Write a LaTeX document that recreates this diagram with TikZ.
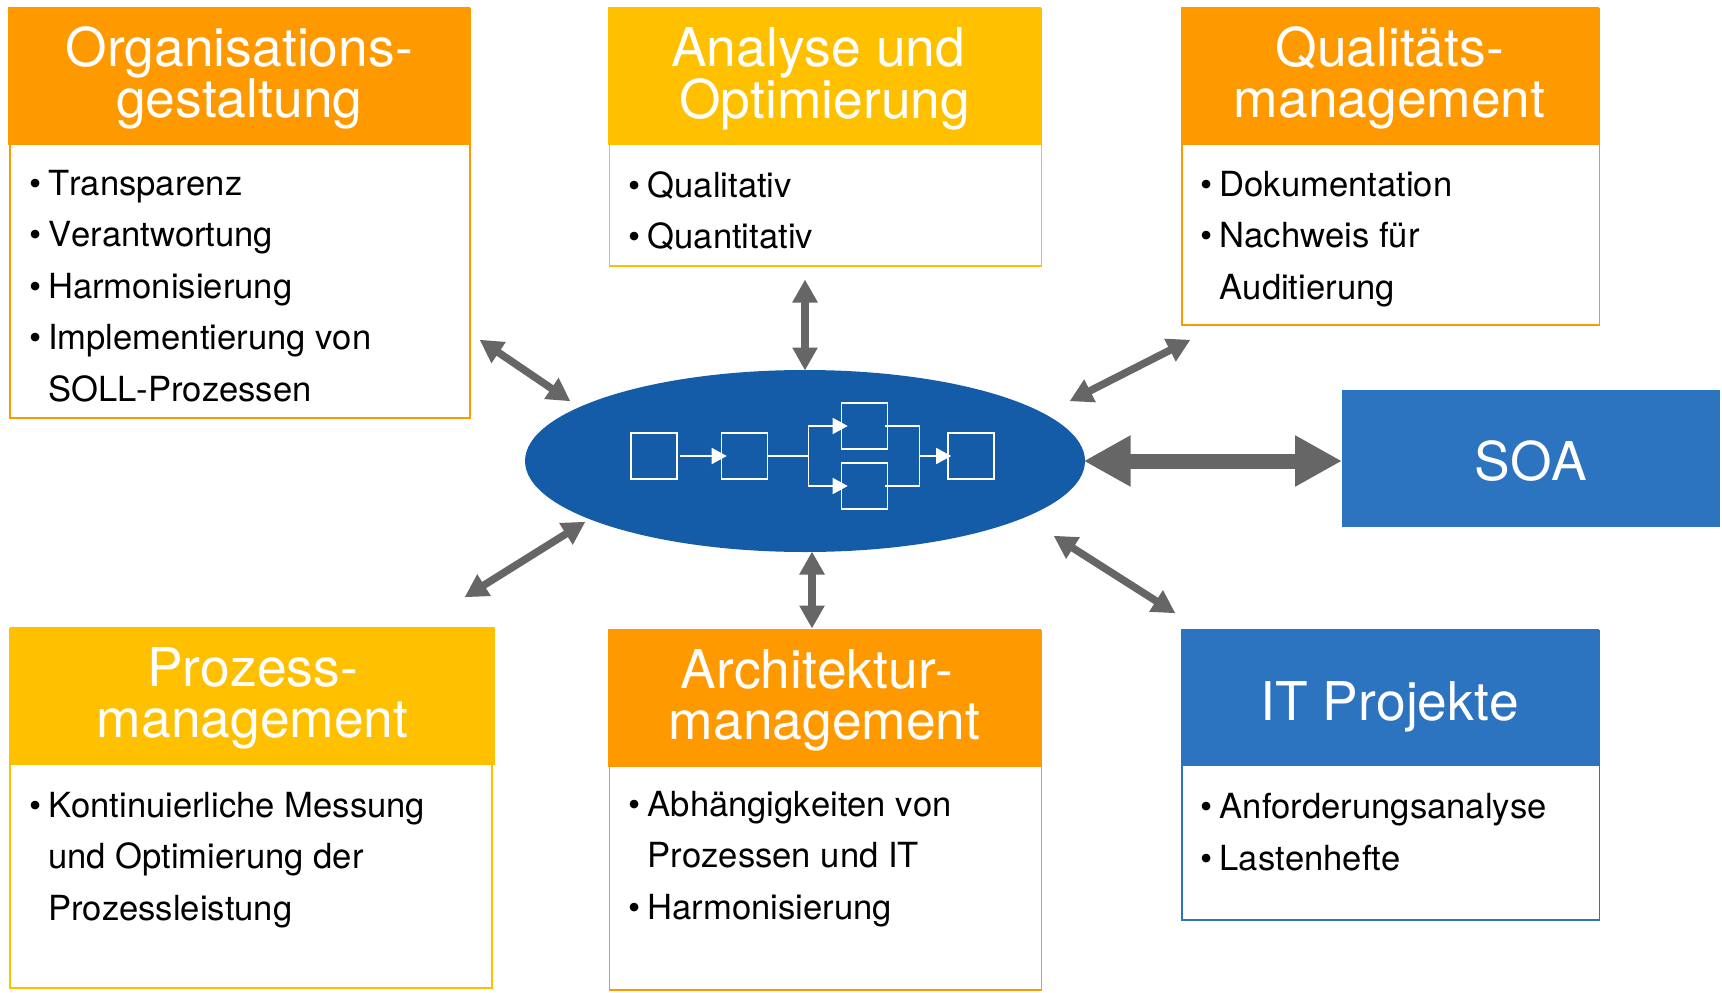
\documentclass[tikz,border=0pt]{standalone}
\usepackage{fontspec}
\setmainfont{TeX Gyre Heros}[Kerning=Off]
\usetikzlibrary{positioning}
\usetikzlibrary{arrows.meta}
\usetikzlibrary{shapes.geometric}
\definecolor{orange}{RGB}{255,153,0}
\definecolor{yellow}{RGB}{255,192,0}
\definecolor{blue}{RGB}{44,115,192}
\definecolor{navy}{RGB}{21,92,168}
\definecolor{grey}{RGB}{102,102,102}
\newcommand{\itm}[1]{\makebox[19pt][l]{\textbullet}#1}
\newcommand{\cnt}[1]{\hspace*{19pt}#1}
\newcommand{\hdl}[1]{\rule{0pt}{44pt}#1}
\tikzset{
    head/.style={fill=#1, draw=none, text=white, inner sep=0pt, align=center, anchor=north west,
        font=\fontsize{53.4}{51}\selectfont},
    body/.style={draw=#1, line width=1.8pt, fill=white, inner sep=0pt, anchor=north west},
    items/.style={inner sep=0pt, anchor=north west, align=left,
        font=\fontsize{34.6}{51.5}\selectfont},
    link/.style={draw=grey, line width=7.5pt, {Triangle[width=24pt,length=23pt]}-{Triangle[width=24pt,length=23pt]}, shorten <=-0.5pt, shorten >=-0.5pt},
    flowbox/.style={draw=white, line width=1.6pt, minimum width=46pt, minimum height=46pt, inner sep=0pt},
    flow/.style={draw=white, line width=1.6pt},
    flowarrow/.style={flow, -{Triangle[width=16pt,length=15pt]}},
}
\begin{document}
\begin{tikzpicture}[x=1pt, y=-1pt]
    \useasboundingbox (0,0) rectangle (1722,993);

    % Define the boxes
    \node[body=orange, minimum width=460pt, minimum height=409pt] (orgbody) at (9,8) {};
    \node[head=orange, minimum width=462pt, minimum height=138pt] (orghead) at (8,7) {\hdl{Organisations-}\\gestaltung};
    \node[items] (orgitems) at (29,170) {\itm{Transparenz}\\\itm{Verantwortung}\\\itm{Harmonisierung}\\\itm{Implementierung von}\\\cnt{SOLL-Prozessen}};

    \node[body=yellow, minimum width=432pt, minimum height=257pt] (anabody) at (608.5,8) {};
    \node[head=yellow, minimum width=433pt, minimum height=138pt] (anahead) at (608,7) {\hdl{Analyse und}\hspace*{13pt}\\Optimierung};
    \node[items] (anaitems) at (628.5,171) {\itm{Qualitativ}\\\itm{Quantitativ}};

    \node[body=orange, minimum width=417.5pt, minimum height=316pt] (qualbody) at (1181,8) {};
    \node[head=orange, minimum width=418pt, minimum height=138pt] (qualhead) at (1180.5,7) {\hdl{Qualitäts-}\\management};
    \node[items] (qualitems) at (1200.5,171) {\itm{Dokumentation}\\\itm{Nachweis für}\\\cnt{Auditierung}};

    \node[head=blue, minimum width=378pt, minimum height=137pt] (soa) at (1342,390) {\hdl{SOA}};

    \node[body=yellow, minimum width=482pt, minimum height=359pt] (probody) at (9,628) {};
    \node[head=yellow, minimum width=485pt, minimum height=138pt] (prohead) at (10,627) {\hdl{Prozess-}\\management};
    \node[items] (proitems) at (29,792) {\itm{Kontinuierliche Messung}\\\cnt{und Optimierung der}\\\cnt{Prozessleistung}};

    \node[body=orange, minimum width=432pt, minimum height=359pt] (archbody) at (608.5,630) {};
    \node[head=orange, minimum width=433pt, minimum height=138pt] (archhead) at (608,629) {\hdl{Architektur-}\hspace*{15pt}\\management};
    \node[items] (architems) at (628.5,791) {\itm{Abhängigkeiten von}\\\cnt{Prozessen und IT}\\\itm{Harmonisierung}};

    \node[body=blue, minimum width=417.5pt, minimum height=289pt] (itbody) at (1181,630) {};
    \node[head=blue, minimum width=418pt, minimum height=137pt] (ithead) at (1180.5,629) {\hdl{\raisebox{-7pt}[\height][\depth]{IT Projekte}}};
    \node[items] (ititems) at (1200.5,793) {\itm{Anforderungsanalyse}\\\itm{Lastenhefte}};

    % Draw the ellipse and the small flow in it
    \node[ellipse, fill=navy, minimum width=560pt, minimum height=182pt, inner sep=0pt] (hub) at (805,461) {};
    \node[flowbox] (stepa) at (654,456) {};
    \node[flowbox] (stepb) at (744.5,456) {};
    \node[flowbox] (stepc) at (864.5,426) {};
    \node[flowbox] (stepd) at (864.5,486) {};
    \node[flowbox] (stepe) at (971,456) {};
    \draw[flowarrow] ([xshift=2pt]stepa.east) -- ([xshift=6pt]stepb.west);
    \draw[flowarrow] (stepb.east) -- ++(40,0) |- ([xshift=7pt]stepc.west);
    \draw[flowarrow] (stepb.east) -- ++(40,0) |- ([xshift=7pt]stepd.west);
    \draw[flow] ([xshift=-3pt]stepc.east) -- ++(34,0) |- ([xshift=-3pt]stepd.east);
    \draw[flowarrow] ([xshift=32pt]stepc.east |- stepe.west) -- ([xshift=4pt]stepe.west);

    % Draw arrows
    \coordinate (orgend) at (480,340);
    \coordinate (hubnw) at (570,401);
    \coordinate (anaend) at (805,280);
    \coordinate (hubn) at (805,370);
    \coordinate (qualend) at (1190,340);
    \coordinate (hubne) at (1070,401);
    \coordinate (proend) at (465,597);
    \coordinate (hubsw) at (585,522);
    \coordinate (archend) at (812,628);
    \coordinate (hubs) at (812,552);
    \coordinate (itend) at (1175,613);
    \coordinate (hubse) at (1054,536);
    \draw[link] (orgend) -- (hubnw);
    \draw[link] (anaend) -- (hubn);
    \draw[link] (qualend) -- (hubne);
    \draw[link] (proend) -- (hubsw);
    \draw[link] (archend) -- (hubs);
    \draw[link] (itend) -- (hubse);
    \draw[draw=grey, line width=15pt, shorten <=-1.5pt, {Triangle[width=48pt,length=47pt]}-{Triangle[width=48pt,length=47pt]}] (hub.east) -- (hub.east -| soa.west);
\end{tikzpicture}
\end{document}
